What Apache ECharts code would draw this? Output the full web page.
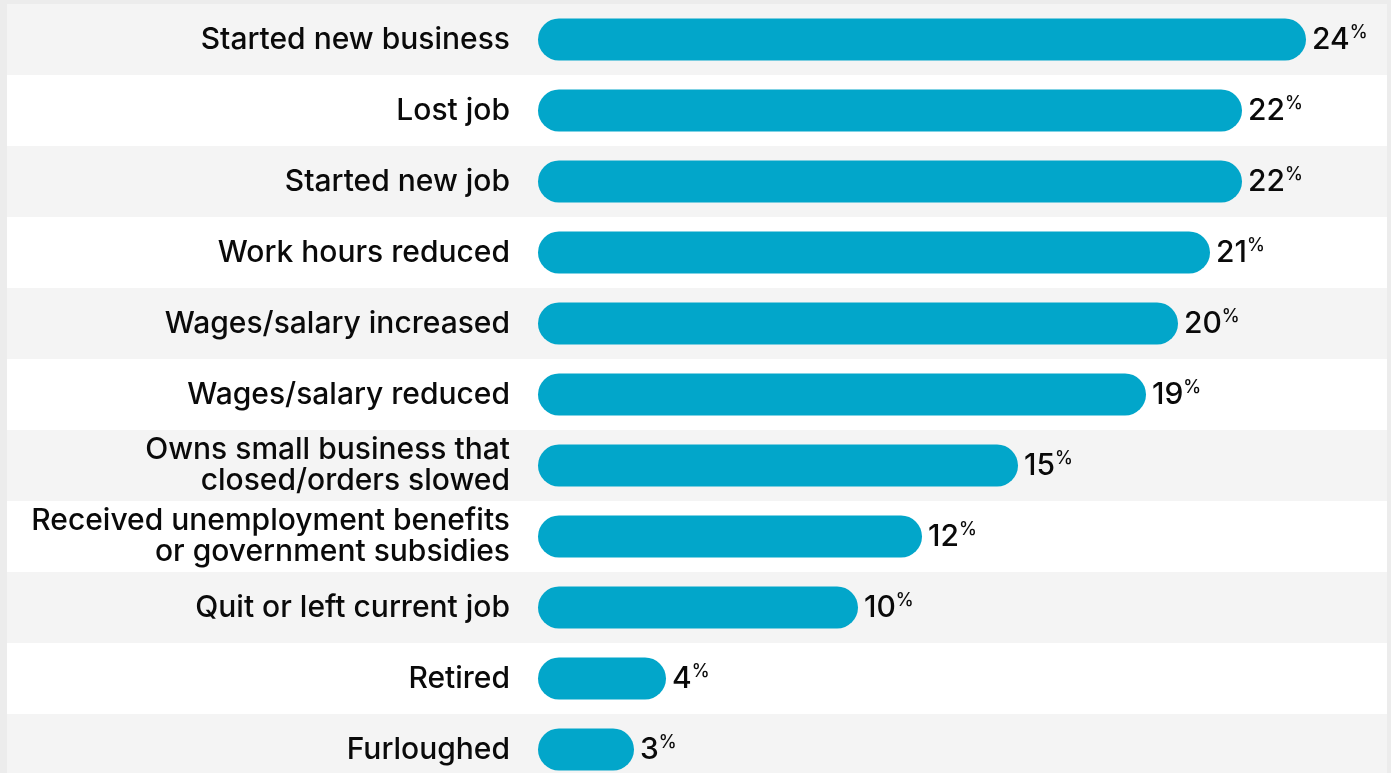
<!DOCTYPE html>
<html>
<head>
<meta charset="utf-8">
<script src="https://cdn.jsdelivr.net/npm/echarts@6/dist/echarts.min.js"></script>
<style>
  html, body { margin: 0; padding: 0; background: #ececec; }
  #chart { width: 1391px; height: 773px; }
</style>
</head>
<body>
<div id="chart"></div>
<script>
// Employment changes reported by respondents (percent)
const categories = [
  'Started new business',
  'Lost job',
  'Started new job',
  'Work hours reduced',
  'Wages/salary increased',
  'Wages/salary reduced',
  'Owns small business that\nclosed/orders slowed',
  'Received unemployment benefits\nor government subsidies',
  'Quit or left current job',
  'Retired',
  'Furloughed'
];
const values = [24, 22, 22, 21, 20, 19, 15, 12, 10, 4, 3];

const FONT = 'Inter';
const BAR_COLOR = '#02a6ca';
const TEXT_COLOR = '#0a0a0a';

const chart = echarts.init(document.getElementById('chart'), null, { renderer: 'canvas' });

chart.setOption({
  backgroundColor: '#ececec',
  animation: false,
  grid: [
    // full-width striped rows behind the bars (last row runs past the bottom edge)
    { left: 7, right: 4, top: 4, height: 781, containLabel: false, outerBoundsMode: 'none' },
    // the bars themselves
    { left: 538, width: 832, top: 4, height: 781, containLabel: false, outerBoundsMode: 'none' }
  ],
  xAxis: [
    { gridIndex: 0, type: 'value', min: 0, max: 1, show: false },
    { gridIndex: 1, type: 'value', min: 0, max: 26, show: false }
  ],
  yAxis: [
    {
      gridIndex: 0, type: 'category', data: categories, inverse: true,
      axisLine: { show: false }, axisTick: { show: false }, axisLabel: { show: false },
      splitLine: { show: false },
      splitArea: { show: true, areaStyle: { color: ['#f4f4f4', '#ffffff'] } }
    },
    {
      gridIndex: 1, type: 'category', data: categories, inverse: true,
      axisLine: { show: false }, axisTick: { show: false },
      splitLine: { show: false }, splitArea: { show: false },
      axisLabel: {
        margin: 28,
        color: TEXT_COLOR,
        fontFamily: FONT,
        fontWeight: 500,
        fontSize: 30,
        lineHeight: 31,
        align: 'right'
      }
    }
  ],
  series: [
    {
      type: 'bar',
      xAxisIndex: 1,
      yAxisIndex: 1,
      data: values,
      barWidth: 42,
      itemStyle: { color: BAR_COLOR, borderRadius: 21 },
      label: {
        show: true,
        position: 'right',
        distance: 6,
        formatter: p => '{n|' + p.value + '}{p|%}',
        rich: {
          n: { fontFamily: FONT, fontWeight: 500, fontSize: 30, color: TEXT_COLOR, lineHeight: 32 },
          p: { fontFamily: FONT, fontWeight: 500, fontSize: 18, color: TEXT_COLOR, verticalAlign: 'top', lineHeight: 18 }
        }
      }
    }
  ]
});
</script>
</body>
</html>
